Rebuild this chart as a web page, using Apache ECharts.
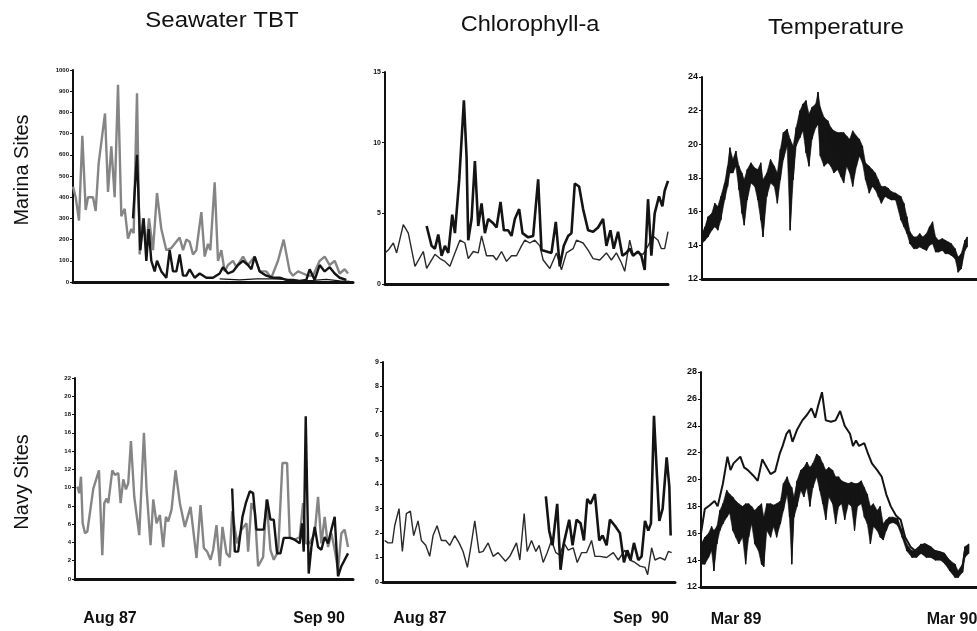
<!DOCTYPE html>
<html><head><meta charset="utf-8">
<script src="https://cdn.jsdelivr.net/npm/echarts@6/dist/echarts.min.js"></script>
<style>html,body{margin:0;padding:0;background:#fff}#c{width:977px;height:631px}</style>
</head><body><div id="c"></div>
<script>
// ---------- DATA (x = weeks since Aug 87 for TBT / Chl, days since Mar 89 for temperature) ----------
// Marina Sites – Seawater TBT (ng/L)
const mTbtGrayT = [0,1.6,3.6,5.6,7.6,9,12,13.6,15.4,19.2,21,23,25,27,29,31,33,35,36.4,38.4,40,42,44,45.6,48,50.4,53,56,59,61,64,66,68,70,72,74,77,79,81,82.4,85,87,89,91,93,96,98,102,105,109,112,116,119,123,126.4,130,132,135,138,141,144,148,151,154,157,160,163,165];
const mTbtGrayV = [450,400,290,690,340,400,400,335,560,795,425,640,400,930,310,345,205,250,230,890,130,300,170,300,150,420,250,150,160,180,210,150,200,190,130,150,330,120,180,150,470,100,150,50,80,100,70,120,80,120,50,50,20,100,200,50,30,50,40,30,30,100,120,80,100,40,60,40];
const mTbtBlackT = [36,38.4,40.4,42.4,44,45.4,47,49,50.4,53,56,58,60,62,64,66,68,70,73,76,80,84,88,90,93,96,99,102,105,107,109,112,116,120,124,128,132,136,140,142,145,148,151,154,157,160,164];
const mTbtBlackV = [300,600,150,300,100,250,100,50,100,50,20,150,50,50,130,30,30,60,20,40,20,20,40,70,40,50,80,100,80,60,120,50,30,20,20,10,10,5,10,60,10,80,50,70,40,20,10];
const mTbtThinT = [88,100,110,120,128,136,144,152,160,166];
const mTbtThinV = [15,10,15,15,12,5,8,12,5,3];
// Marina Sites – Chlorophyll-a
const mChlThinT = [0,2,5,7,11,14,18,23,25,30,33,36,39,42,45,48,50,53,56,58,61,65,67,70,73,76,79,82,84,87,90,93,95,99,103,106,109,113,115,119,122,125,129,133,136,139,142,144,147,149,152,155,158,161,164,166,168,170];
const mChlThinV = [2.2,2.4,2.9,2.2,4.2,3.6,1.25,2.3,1.1,2.1,1.8,1.6,1.25,2.2,3.1,2.9,1.8,2.3,2.2,3.4,2.0,2.0,1.7,2.3,1.6,2.0,2.0,2.7,3.1,2.9,3.1,2.7,1.7,1.1,2.2,1.0,2.2,2.5,3.1,2.9,2.4,1.8,1.7,2.2,1.7,2.2,1.5,0.9,3.1,2.1,2.2,2.1,2.7,3.4,3.1,2.5,2.5,3.7];
const mChlThickT = [25,28,30,32,34,36,38,40.4,42,44.6,47.4,49,50,52,54,56,58,60,62,65,67,69.4,71.4,74,76,78,80.6,82.6,86,89,92,94,97,100,102.6,105,107.4,110,112,114,116.6,119,122,125,128,131,133,135.4,137.4,140,142.6,145,147,149,152,154,156,158,160,162,164.6,166.6,168,170];
const mChlThickV = [4.1,2.7,2.5,3.5,2.0,2.7,2.2,4.9,3.6,7.4,13.0,9.0,3.1,4.6,8.7,4.1,5.7,3.6,4.6,4.3,4.0,5.8,3.8,3.8,3.4,4.6,5.3,3.6,3.3,3.4,7.4,2.4,2.3,2.2,4.4,1.25,2.7,3.4,3.6,7.1,6.9,5.3,3.8,3.7,4.0,4.6,2.7,3.8,2.5,3.7,2.0,2.2,2.5,2.0,2.3,2.0,1.0,6.0,2.0,5.0,6.2,5.5,6.6,7.3];
// Marina Sites – Temperature (upper / lower edge of the daily band)
const mTempT = [0,4,8,13,17,21,25,30,34,37,41,45,49,53,56,60,65,70,74,78,81,86,91,96,100,104,108,113,117,121,125,130,134,138,142,146,151,154,157,162,167,171,175,180,184,188,192,196,200,205,209,213,217,222,226,230,234,238,243,247,251,257,264,268,272,276,281,285,289,293,298,302,306,310,314,319,323,327,331,336,340,344,349,352];
const mTempHi = [14.7,15.1,15.7,15.9,16.5,16.3,16.9,17.7,18.7,19.8,19.1,19.6,18.7,18.3,17.9,18.5,18.9,18.6,18.5,18.9,17.9,18.3,19.1,18.7,18.3,19.7,20.7,20.9,20.3,19.9,21.0,22.0,22.4,22.6,21.8,22.2,22.4,23.1,22.2,21.6,21.4,21.0,20.8,20.7,20.7,20.7,20.5,20.3,20.8,20.5,20.3,19.9,18.9,18.7,18.5,18.3,17.9,17.5,17.5,17.4,17.2,17.1,16.9,16.5,15.7,14.8,14.5,14.5,14.7,14.5,14.7,15.1,15.4,14.5,14.3,14.4,14.3,14.2,14.1,13.8,13.3,13.5,14.3,14.5];
const mTempLo = [14.1,14.3,14.5,14.9,15.1,14.9,15.5,16.7,17.5,18.3,18.3,18.7,17.3,15.9,15.2,16.7,17.7,17.5,16.7,15.5,14.5,16.9,17.7,17.5,16.5,17.9,19.1,19.9,14.9,17.9,19.9,20.4,20.8,19.5,18.7,20.3,21.0,21.2,19.3,18.7,18.9,18.7,18.3,18.5,18.1,17.7,18.7,18.3,17.5,18.7,19.3,18.9,17.9,17.1,17.5,17.3,16.9,16.5,16.9,16.8,16.7,16.7,15.5,15.1,14.7,14.1,13.8,13.8,13.9,13.8,13.7,14.0,14.1,13.6,13.6,13.7,13.5,13.5,13.4,13.2,12.4,12.6,13.7,13.9];
// Navy Sites – Seawater TBT
const nTbtGrayT = [1.4,2.6,3.6,4.6,6,7.4,11,14.4,16.4,17.6,19,20,22.4,24,26,27.4,29,30.6,32,33.6,35.6,38.6,41.4,43,45.4,47,49,51,53,54.6,56,58,60.4,63,66,69.4,71,73,75.4,77.4,79.4,81.4,83,85,87,88.6,91,93,94.4,97.4,100,103,104,106,108,110,113,115,117.4,119.4,122,124.6,127.4,129,132,135,137,138.6,141,144,146,148,150,152,154,156,158,160,162,164];
const nTbtGrayV = [10.1,9.4,11.2,6.1,5.0,5.2,9.9,11.9,2.6,8.3,8.8,8.3,11.9,11.4,11.6,8.3,10.9,9.8,10.5,15.1,9.0,4.8,16.0,9.8,3.7,8.7,6.1,7.0,3.5,6.8,6.3,7.6,11.9,8.3,5.7,7.9,5.4,2.3,8.1,3.4,3.0,2.1,3.2,5.9,1.4,5.7,2.8,2.4,7.4,3.9,5.4,6.1,3.0,8.3,7.4,1.4,2.4,8.7,3.2,2.1,3.0,12.7,12.7,4.6,4.3,4.6,8.3,3.9,3.9,5.0,9.0,3.9,6.8,3.5,5.0,3.2,1.0,5.0,5.4,3.5];
const nTbtBlackT = [94.4,96,98,100.6,102.6,105,107,109,111,113.4,115.4,117.4,119.4,121.4,123.4,125.4,129,132,135,136.4,137.4,138.6,140.4,142,144,146,148,150,152,154,156,158,160,164];
const nTbtBlackV = [9.9,3.0,3.0,6.8,8.3,9.6,9.4,5.4,5.4,5.4,8.7,6.5,6.5,2.8,2.8,4.5,4.5,4.3,3.9,6.1,3.0,17.8,0.6,3.5,5.7,3.5,3.2,4.6,3.9,5.4,6.8,0.3,1.4,2.8];
// Navy Sites – Chlorophyll-a
const nChlThinT = [1,3,5.6,7,9.6,11.6,14,16.4,18.4,21,23,25.6,28,30,32.4,35,37.6,40,43,45.6,48,50.6,53,55,57.6,60,63,66,69,73.4,76,80,82,84.6,86.4,89,91.6,93.6,96,98.4,101,103.6,106,108.4,111,114,116.4,119,122,125,127,130,134,138,141,145,148,151,154,157,158.6,161,163,166,169,171,173];
const nChlThinV = [1.7,1.6,1.6,2.3,3.0,1.25,2.8,2.9,1.9,2.5,1.7,1.5,1.05,1.9,2.3,1.7,1.7,1.5,1.9,1.6,1.25,0.6,1.6,2.5,1.2,1.25,1.6,1.05,1.2,0.85,1.05,1.6,0.9,2.8,1.25,1.7,1.25,1.5,0.8,1.2,1.7,1.2,1.1,1.6,1.3,1.4,0.8,1.2,1.2,1.7,1.05,1.05,1.0,1.2,0.9,1.3,0.9,0.8,0.65,0.6,0.3,1.4,0.9,1.0,0.9,1.25,1.2];
const nChlThickT = [97.6,99.6,101.6,104.4,106.4,108.4,111.6,113.6,116,118.4,120.4,122.4,124.4,127,129.6,131.6,134,136,139,142,144.4,146.4,148.4,150.4,153,155,157,159,160.6,162.4,164,165.6,167.6,170,171.6,172.4];
const nChlThickV = [3.5,2.1,1.5,3.2,0.5,1.6,2.55,1.5,2.55,2.4,1.7,3.4,3.2,3.6,1.7,1.9,1.5,2.55,2.3,2.0,0.8,1.3,0.9,1.6,0.9,1.05,2.5,2.1,2.4,6.8,4.6,2.5,3.0,5.1,3.9,1.9];
// Navy Sites – Temperature
const nTempUpT = [0,5,12,18,22,29,35,39,43,52,57,62,69,75,81,85,92,98,104,108,113,117,121,127,134,140,146,151,155,160,165,172,178,184,190,197,201,205,209,216,221,226,233,239,245,251,258,264,270,277,283,289,296,302,308,315,321,327,333,340,346,349,354];
const nTempUpV = [16.0,17.8,18.1,18.4,18.0,19.7,21.7,20.7,21.2,21.7,20.9,20.7,20.3,19.9,21.5,21.1,20.4,20.6,21.9,22.5,23.4,23.7,22.8,23.7,24.4,24.8,25.3,24.6,25.5,26.5,24.4,24.3,24.4,25.1,24.0,23.4,22.5,22.9,22.5,22.7,21.9,21.2,20.7,20.2,18.9,18.0,17.3,17.0,15.7,15.0,14.7,15.0,15.2,15.0,14.7,14.6,14.5,14.0,13.5,13.0,13.6,14.7,15.0];
const nTempT = [0,5,10,14,17,21,25,29,34,38,42,46,50,55,59,63,67,71,76,80,83,87,92,96,100,105,109,114,117,120,123,127,132,136,140,144,148,153,157,161,165,169,174,178,182,186,190,195,199,203,207,212,216,220,224,228,233,237,241,245,249,254,260,266,272,279,285,291,298,304,310,317,323,329,336,340,346,349,354];
const nTempHi = [15.2,15.7,16.0,16.5,16.2,16.5,17.7,18.2,19.2,18.9,18.7,18.4,18.2,18.0,18.2,18.2,18.0,17.7,18.0,18.2,17.2,18.2,18.2,18.1,18.2,18.4,19.7,20.2,19.7,19.4,18.7,19.9,20.7,20.9,21.3,20.9,21.2,21.9,21.7,21.2,20.7,20.9,20.7,20.2,20.2,19.9,19.8,19.7,19.8,19.7,19.7,19.9,19.4,18.9,18.0,18.2,17.7,18.0,16.7,17.0,17.2,17.2,17.1,16.2,15.2,14.7,14.7,15.2,15.1,15.0,14.7,14.6,14.4,14.0,13.7,13.2,13.7,15.0,15.2];
const nTempLo = [13.7,13.7,14.2,14.7,13.2,15.2,16.2,16.7,17.2,17.5,16.2,15.7,15.2,15.7,13.7,15.7,16.7,15.2,14.7,13.7,13.5,16.2,15.7,16.5,15.7,16.7,17.7,18.9,17.2,13.7,17.2,18.0,19.2,18.7,19.4,18.0,19.4,20.2,19.2,18.2,17.0,18.7,18.2,16.7,18.0,18.2,17.0,18.2,18.0,16.2,18.0,18.2,17.2,16.7,15.2,16.5,16.2,15.7,15.5,16.2,16.7,16.8,16.6,15.7,14.7,14.2,14.2,14.5,14.2,14.2,14.0,14.0,13.7,13.2,12.7,12.7,13.1,14.2,14.5];
// axis ranges / ticks
const yTbtMarina = {min:0, max:1000, interval:100};
const yChlMarina = {min:0, max:15, interval:5};
const yTempMarina = {min:12, max:24, interval:2};
const yTbtNavy = {min:0, max:22, interval:2};
const yChlNavy = {min:0, max:9, interval:1};
const yTempNavy = {min:12, max:28, interval:2};
const titles = ['Seawater TBT','Chlorophyll-a','Temperature'];
const rowLabels = ['Marina Sites','Navy Sites'];
const dateLabels = ['Aug 87','Sep 90','Aug 87','Sep  90','Mar 89','Mar 90'];

// ---------- CHART ----------
const zip = (t, v) => t.map((x, i) => [x, v[i]]);
const zig = (t, hi, lo) => { const out = []; t.forEach((x, i) => { out.push([x, hi[i]]); out.push([x, lo[i]]); }); return out; };
// one quad per pair of consecutive samples: [t0, hi0, lo0, t1, hi1, lo1]
const quads = (t, hi, lo) => t.slice(0, -1).map((x, i) => [x, hi[i], lo[i], t[i+1], hi[i+1], lo[i+1]]);

const FONT = '"Liberation Sans", Arial, Helvetica, sans-serif';
const GRAY = '#858585', BLACK = '#141414';
const grids = [
  {left:73, top:70, width:280, height:212},
  {left:385, top:72, width:283, height:212},
  {left:702, top:77, width:288, height:202},
  {left:75, top:378, width:278, height:201},
  {left:383, top:362, width:292, height:220},
  {left:701, top:372, width:289, height:215}
];
const xMax = [168, 170, 365, 167, 175, 365];
const yDefs = [yTbtMarina, yChlMarina, yTempMarina, yTbtNavy, yChlNavy, yTempNavy];
const yFont = [6, 7, 9, 6, 7, 9];

const xAxes = grids.map((g, i) => ({
  type:'value', gridIndex:i, min:0, max:xMax[i],
  axisLine:{show:true, onZero:false, lineStyle:{color:'#111', width:3}},
  axisTick:{show:false}, axisLabel:{show:false}, splitLine:{show:false}
}));
const yAxes = yDefs.map((d, i) => ({
  type:'value', gridIndex:i, min:d.min, max:d.max, interval:d.interval,
  axisLine:{show:true, lineStyle:{color:'#111', width:2}},
  axisTick:{show:true, length:3, lineStyle:{color:'#111', width:1}},
  axisLabel:{fontSize:yFont[i], fontWeight:'bold', color:'#111', margin:4, fontFamily:FONT, formatter: v => String(v)},
  splitLine:{show:false}
}));

const line = (i, data, color, width, z) => ({
  type:'line', xAxisIndex:i, yAxisIndex:i, data, showSymbol:false, symbol:'none',
  lineStyle:{color, width}, z: z || 2, animation:false, silent:true
});
const band = (i, t, hi, lo) => [
  {
    type:'custom', xAxisIndex:i, yAxisIndex:i, data: quads(t, hi, lo), silent:true, animation:false, z:2,
    encode:{x:[0,3], y:[1,2,4,5]},
    renderItem: (params, api) => {
      const a = api.coord([api.value(0), api.value(1)]);
      const b = api.coord([api.value(3), api.value(4)]);
      const c = api.coord([api.value(3), api.value(5)]);
      const d = api.coord([api.value(0), api.value(2)]);
      return {type:'polygon', shape:{points:[a, b, c, d]}, style:{fill:BLACK, stroke:BLACK, lineWidth:0.6}};
    }
  },
  line(i, zig(t, hi, lo), BLACK, 1.2, 3)
];
const series = [
  line(0, zip(mTbtGrayT, mTbtGrayV), GRAY, 2.4),
  line(0, zip(mTbtThinT, mTbtThinV), BLACK, 1.3),
  line(0, zip(mTbtBlackT, mTbtBlackV), BLACK, 2.4, 3),
  line(1, zip(mChlThinT, mChlThinV), '#2a2a2a', 1.4),
  line(1, zip(mChlThickT, mChlThickV), BLACK, 2.6, 3),
  ...band(2, mTempT, mTempHi, mTempLo),
  line(3, zip(nTbtGrayT, nTbtGrayV), GRAY, 2.4),
  line(3, zip(nTbtBlackT, nTbtBlackV), BLACK, 2.4, 3),
  line(4, zip(nChlThinT, nChlThinV), '#2a2a2a', 1.4),
  line(4, zip(nChlThickT, nChlThickV), BLACK, 2.6, 3),
  line(5, zip(nTempUpT, nTempUpV), BLACK, 2),
  ...band(5, nTempT, nTempHi, nTempLo)
];

const txt = (text, x, y, size, weight, rot, sx) => ({
  type:'text', x, y, rotation: rot || 0, scaleX: sx || 1, z:10,
  style:{text, fill:'#111', font: (weight||'normal') + ' ' + size + 'px ' + FONT, textAlign:'center', textVerticalAlign:'middle'}
});
const graphic = [
  txt(titles[0], 222, 21, 22, 'normal', 0, 1.09),
  txt(titles[1], 530, 25, 22, 'normal', 0, 1.07),
  txt(titles[2], 836, 28, 22, 'normal', 0, 1.1),
  txt(rowLabels[0], 22, 170, 20, 'normal', Math.PI/2),
  txt(rowLabels[1], 22, 482, 20, 'normal', Math.PI/2),
  txt(dateLabels[0], 110, 619, 16, 'bold'),
  txt(dateLabels[1], 319, 619, 16, 'bold'),
  txt(dateLabels[2], 420, 619, 16, 'bold'),
  txt(dateLabels[3], 641, 619, 16, 'bold'),
  txt(dateLabels[4], 736, 620, 16, 'bold'),
  txt(dateLabels[5], 952, 620, 16, 'bold')
];

const chart = echarts.init(document.getElementById('c'), null, {renderer:'canvas'});
chart.setOption({
  animation:false, backgroundColor:'#fff',
  grid: grids, xAxis: xAxes, yAxis: yAxes, series, graphic
});
</script></body></html>
